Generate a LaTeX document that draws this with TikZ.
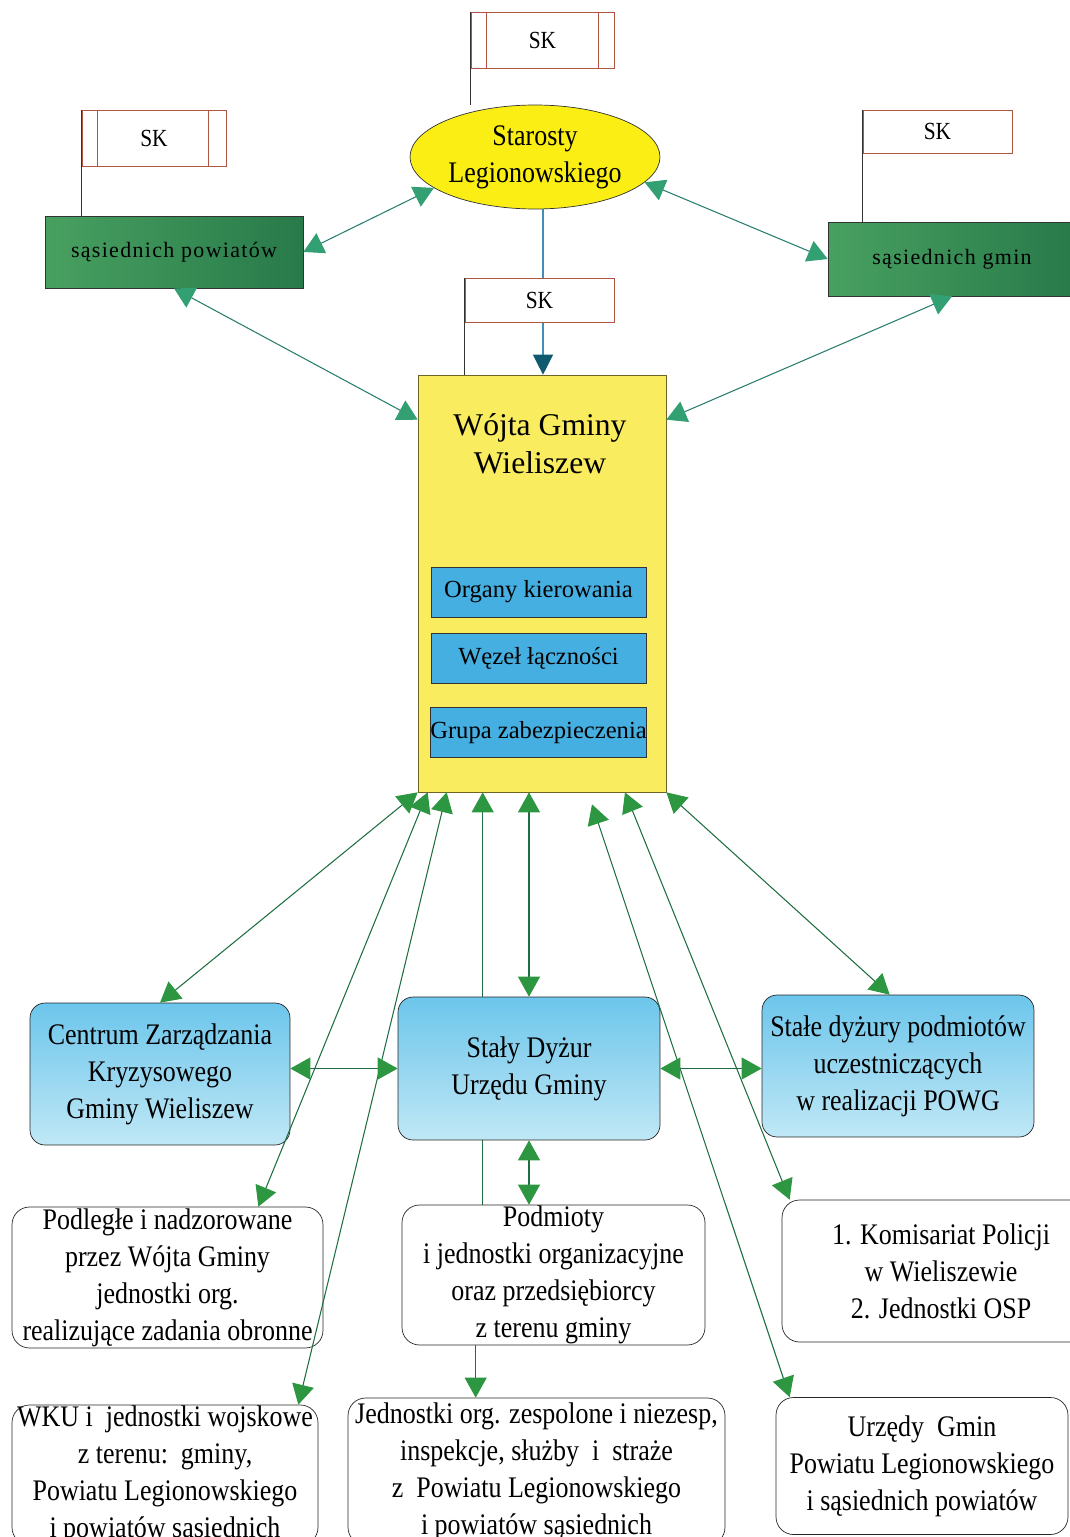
\documentclass[tikz,border=0pt]{standalone}
\usepackage{fontspec}
\setmainfont{Liberation Serif}[FakeStretch=0.87]
\newfontfamily\plainserif{Liberation Serif}
\usetikzlibrary{arrows.meta,positioning,shapes.geometric,calc,backgrounds}

\definecolor{ellipseyellow}{RGB}{250,238,20}
\definecolor{wojtyellow}{RGB}{250,236,95}
\definecolor{wojtedge}{RGB}{110,100,40}
\definecolor{cellblue}{RGB}{70,175,225}
\definecolor{greenlight}{RGB}{72,160,96}
\definecolor{greendark}{RGB}{40,122,74}
\definecolor{dutytop}{RGB}{108,198,235}
\definecolor{dutymid}{RGB}{150,214,240}
\definecolor{dutybottom}{RGB}{192,232,246}
\definecolor{flagred}{RGB}{175,85,65}
\definecolor{linegreen}{RGB}{30,110,65}
\definecolor{arrowgreen}{RGB}{45,150,65}
\definecolor{linetealish}{RGB}{40,125,110}
\definecolor{arrowtealish}{RGB}{50,160,115}
\definecolor{lineblue}{RGB}{70,140,185}
\definecolor{arrowblue}{RGB}{15,90,110}

\begin{document}
\begin{tikzpicture}[x=0.02cm, y=-0.02cm,
  gtip/.tip={Triangle[length=4mm, width=4.4mm, color=arrowgreen]},
  ttip/.tip={Triangle[length=4mm, width=4.4mm, color=arrowtealish]},
  btip/.tip={Triangle[length=4mm, width=4mm, color=arrowblue]},
  flagbox/.style={draw=flagred, fill=white, line width=0.5pt, inner sep=0pt,
    font=\fontsize{14}{16}\selectfont},
  pole/.style={draw=black!80, line width=0.5pt},
  greenbox/.style={draw=black!80, left color=greenlight, right color=greendark, inner sep=0pt,
    font=\plainserif\addfontfeatures{LetterSpace=6}\fontsize{12.5}{15}\selectfont},
  cellbox/.style={draw=black!80, fill=cellblue, minimum width=4.3cm, minimum height=1cm,
    inner sep=0pt, font=\plainserif\fontsize{14}{16}\selectfont},
  dutybox/.style={draw=black!85, rounded corners=0.3cm, top color=dutytop, bottom color=dutybottom,
    middle color=dutymid, align=center, inner sep=0pt, font=\fontsize{17}{21}\selectfont},
  whitebox/.style={draw=black!85, rounded corners=0.35cm, fill=white, align=center, inner sep=0pt,
    font=\fontsize{17}{21}\selectfont},
  dlink/.style={linegreen, line width=0.6pt, gtip-gtip},
  slink/.style={linegreen, line width=0.6pt, -gtip},
  toplink/.style={linetealish, line width=0.6pt, ttip-ttip}]
  \useasboundingbox (0,0) rectangle (1070,1537);

  % gora: starosta i sasiedzi
  \node[ellipse, draw=black!80, fill=ellipseyellow, minimum width=5cm, minimum height=2.08cm,
    inner sep=0pt, align=center, font=\fontsize{17}{21}\selectfont] (starosty) at (535,157)
    {Starosty\\Legionowskiego};
  \node[greenbox, minimum width=5.16cm, minimum height=1.44cm] (powiaty) at (174,252) {sąsiednich\ powiatów};
  \node[greenbox, minimum width=4.96cm, minimum height=1.48cm] (gminy) at (952,259) {sąsiednich gmin};

  % flagi SK
  \node[flagbox, minimum width=2.86cm, minimum height=1.12cm] (skTop) at (542.5,40) {SK};
  \node[flagbox, minimum width=2.88cm, minimum height=1.12cm] (skLeft) at (154,138) {SK};
  \node[flagbox, minimum width=2.98cm, minimum height=0.86cm] (skRight) at (937.5,131.5) {SK};
  \node[flagbox, minimum width=2.98cm, minimum height=0.88cm] (skMid) at (539.5,300) {SK};
  \foreach \f/\l/\r in {skTop/16/16, skLeft/16/18}
    \draw[flagred, line width=0.5pt] ($(\f.north west)+(\l,0)$) -- ($(\f.south west)+(\l,0)$)
      ($(\f.north east)+(-\r,0)$) -- ($(\f.south east)+(-\r,0)$);

  % wojt
  \node[draw=wojtedge, fill=wojtyellow, minimum width=4.96cm, minimum height=8.34cm] (wojt) at (542,583.5) {};
  \node[font=\plainserif\fontsize{18}{21.6}\selectfont, align=center] (wojtTitle) at (540,444)
    {Wójta Gminy\\Wieliszew};
  \node[cellbox] (organy) at (538.5,592) {Organy kierowania};
  \node[cellbox] (wezel) at (538.5,658) {Węzeł łączności};
  \node[cellbox] (grupa) at (538.5,732.5) {Grupa zabezpieczenia};

  \draw[pole] (skTop.north west) -- (skTop.north west |- starosty.north);
  \draw[pole] (skLeft.north west) -- (skLeft.north west |- powiaty.north);
  \draw[pole] (skRight.north west) -- (skRight.north west |- gminy.north);
  \draw[pole] (skMid.north west) -- (skMid.north west |- wojt.north);

  % dyzury
  \node[dutybox, minimum width=5.2cm, minimum height=2.84cm] (centrum) at (160,1074)
    {Centrum Zarządzania\\Kryzysowego\\Gminy Wieliszew};
  \node[dutybox, minimum width=5.24cm, minimum height=2.86cm] (dyzur) at (529,1068.5)
    {Stały Dyżur\\Urzędu Gminy};
  \node[dutybox, minimum width=5.44cm, minimum height=2.84cm] (stale) at (898,1066)
    {Stałe dyżury podmiotów\\uczestniczących\\w realizacji POWG};

  % jednostki
  \node[whitebox, minimum width=6.22cm, minimum height=2.82cm] (podlegle) at (167.5,1277.5)
    {Podległe i nadzorowane\\przez Wójta Gminy\\jednostki org.\\realizujące zadania obronne};
  \node[whitebox, minimum width=6.06cm, minimum height=2.8cm] (podmioty) at (553.5,1275)
    {Podmioty\\i jednostki organizacyjne\\oraz przedsiębiorcy\\z terenu gminy};
  \node[whitebox, minimum width=6.36cm, minimum height=2.84cm] (komisariat) at (941,1271)
    {1. Komisariat Policji\\w Wieliszewie\\2. Jednostki OSP};
  \node[whitebox, minimum width=6.12cm, minimum height=2.8cm] (wku) at (165,1475)
    {WKU i\ \ jednostki wojskowe\\z terenu:\ \ gminy,\\Powiatu Legionowskiego\\i powiatów sąsiednich};
  \node[whitebox, minimum width=7.54cm, minimum height=2.94cm] (jednostki) at (536.5,1471.5)
    {Jednostki org. zespolone i niezesp,\\inspekcje, służby\ \ i\ \ straże\\z\ \ Powiatu Legionowskiego\\i powiatów sąsiednich};
  \node[whitebox, minimum width=5.84cm, minimum height=2.74cm] (urzedy) at (922,1466)
    {Urzędy\ \ Gmin\\Powiatu Legionowskiego\\i sąsiednich powiatów};

  % linie schowane pod prostokatami
  \begin{scope}[on background layer]
    \draw[lineblue, line width=0.6pt, -btip] ($(starosty.south)+(8,0)$) coordinate (st1) -- (st1 |- wojt.north);
    \draw[slink] ($(podmioty.north west)+(81,0)$) coordinate (pd1) -- (pd1 |- wojt.south);
  \end{scope}

  % powiazania gora
  \draw[toplink] (starosty.197) -- (powiaty.east);
  \draw[toplink] (starosty.-13) -- (gminy.west);
  \draw[toplink] (powiaty.south) -- ($(wojt.north west)+(0,45)$);
  \draw[toplink] (gminy.south) -- ($(wojt.north east)+(0,45)$);

  % powiazania dol
  \draw[dlink] (wojt.south west) -- (centrum.north);
  \draw[dlink] ($(wojt.south west)+(10,0)$) -- ($(podlegle.north east)+(-65,0)$);
  \draw[dlink] ($(wojt.south west)+(29,0)$) -- ($(wku.north east)+(-20,0)$);
  \draw[dlink] (dyzur.north) -- (dyzur.north |- wojt.south);
  \draw[dlink] ($(wojt.south)+(50,12)$) -- ($(urzedy.north west)+(14,0)$);
  \draw[dlink] ($(wojt.south)+(83,0)$) -- ($(komisariat.north west)+(8,0)$);
  \draw[dlink] (wojt.south east) -- ($(stale.north west)+(128,0)$);
  \draw[dlink] (dyzur.west -| centrum.east) -- (dyzur.west);
  \draw[dlink] (dyzur.east) -- (dyzur.east -| stale.west);
  \draw[dlink] (dyzur.south) -- (dyzur.south |- podmioty.north);
  \draw[slink] ($(podmioty.south west)+(74,0)$) coordinate (pd2) -- (pd2 |- jednostki.north);
\end{tikzpicture}
\end{document}
